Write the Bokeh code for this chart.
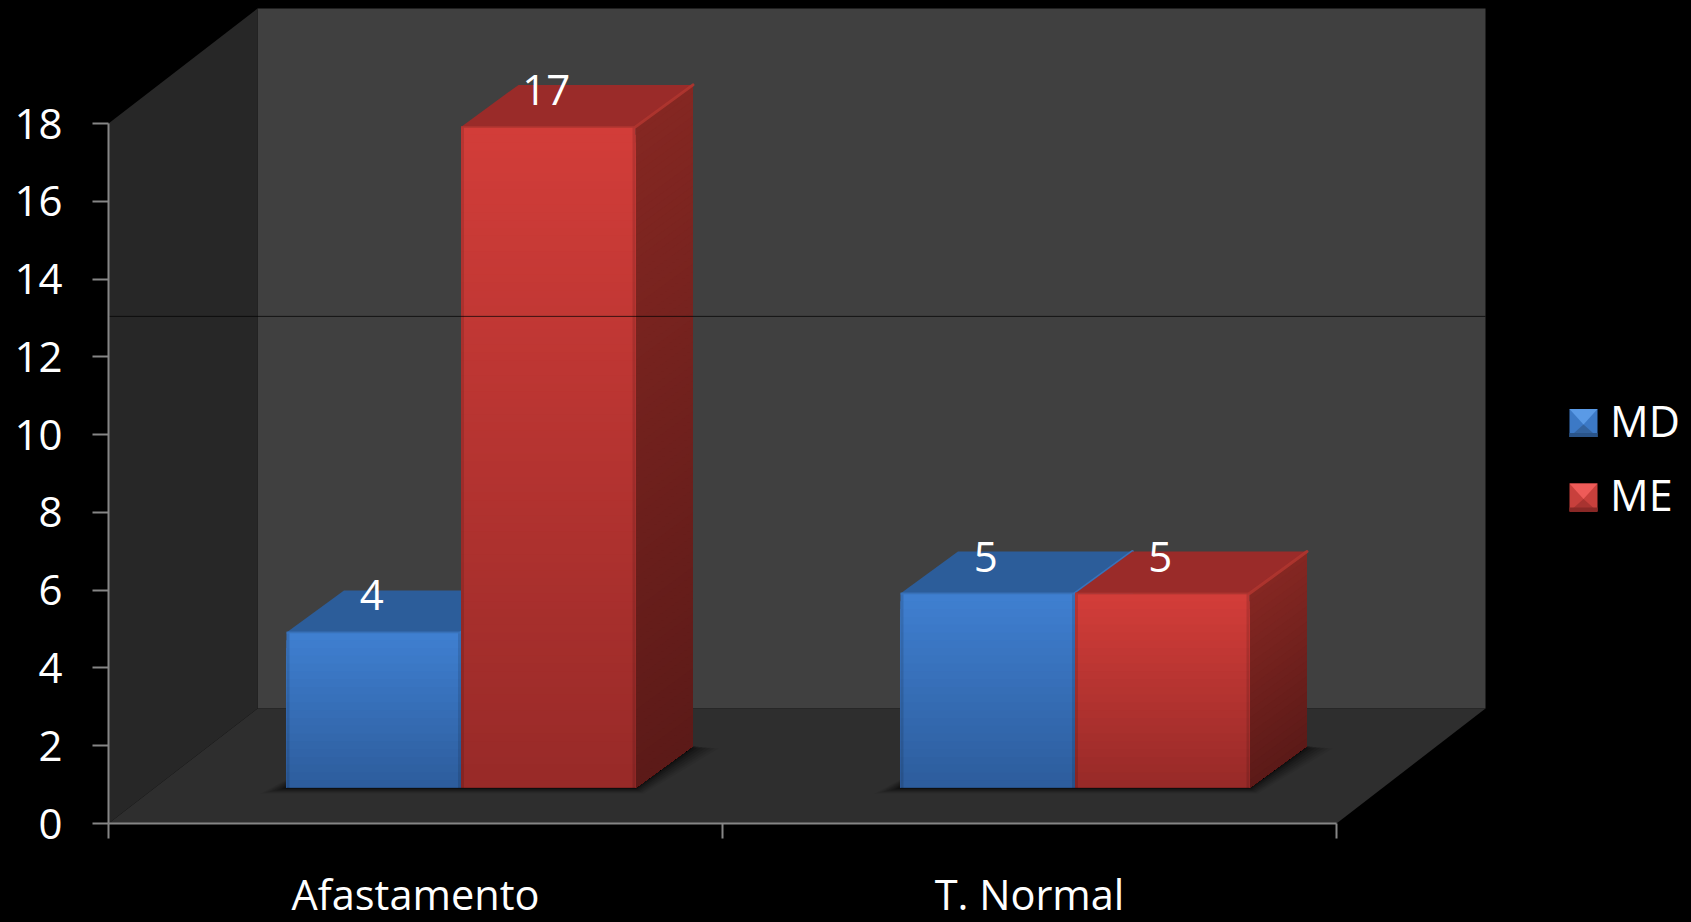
from bokeh.plotting import figure
from bokeh.embed import file_html
from bokeh.resources import INLINE
from bokeh.core.properties import value
from bokeh.models import Range1d, FixedTicker, Legend, LegendItem, LinearAxis, InlineStyleSheet

categories = ["Afastamento", "T. Normal"]
series_names = ["MD", "ME"]
md_values = [4, 5]
me_values = [17, 5]
y_ticks = [0, 2, 4, 6, 8, 10, 12, 14, 16, 18]

FONT = "Open Sans"
FS = "42px"

W, H = 1691, 922
LEFT, BOTTOM_PX = 108, 99           # where the axes cross, px from the left and the bottom
XU, YU = 614.0, 700.0 / 18          # px per axis unit
FH = H - BOTTOM_PX

p = figure(width=W, height=H, output_backend="svg", toolbar_location=None,
           x_range=Range1d(-LEFT / XU, (W - LEFT) / XU),
           y_range=Range1d(-BOTTOM_PX / YU, FH / YU),
           x_axis_location=None, y_axis_location=None,
           min_border_left=0, min_border_right=0, min_border_top=0, min_border_bottom=0,
           background_fill_color="#000000", border_fill_color="#000000",
           outline_line_color=None)
p.grid.visible = False
p.stylesheets = [InlineStyleSheet(css=":host{background:#000;}")]

# projection constants
WALL_DX, WALL_DY = 149 / XU, 115 / YU
FRONT_DX, FRONT_DY = 45.5 / XU, 35.5 / YU
BAR_DX, BAR_DY = 57.5 / XU, 42 / YU
BAR_W = 174.5 / XU
Y_TOP = y_ticks[-1]
X_END = len(categories)


def poly(xs, ys, color, **kw):
    p.patch(xs, ys, fill_color=color, line_color=None, **kw)


# walls and floor
poly([WALL_DX, X_END + WALL_DX, X_END + WALL_DX, WALL_DX],
     [WALL_DY, WALL_DY, Y_TOP + WALL_DY, Y_TOP + WALL_DY], "#404040")
poly([0, WALL_DX, WALL_DX, 0], [0, WALL_DY, Y_TOP + WALL_DY, Y_TOP], "#272727")
poly([0, X_END, X_END + WALL_DX, WALL_DX], [0, 0, WALL_DY, WALL_DY], "#2e2e2e")


def lerp(c0, c1, t):
    a = [int(c0[i:i + 2], 16) for i in (1, 3, 5)]
    b = [int(c1[i:i + 2], 16) for i in (1, 3, 5)]
    return "#%02x%02x%02x" % tuple(round(u + (v - u) * t) for u, v in zip(a, b))


STYLES = {
    "MD": dict(front=("#3f7fd0", "#2d5d9d"), top="#2c5d9a", side=("#2c5d9a", "#234a7c"),
               edge="#3a75bf", sw=("#3c79c6", "#5a9ae6", "#33639f", "#2a5489")),
    "ME": dict(front=("#d23d39", "#982a28"), top="#9a2b29", side=("#842722", "#5c1a18"),
               edge="#b0352f", sw=("#c8403c", "#ee5b58", "#a83330", "#8a2826")),
}


def shadow(x0, x1):
    for grow, alpha in ((26, 0.06), (22, 0.07), (18, 0.09), (14, 0.11), (10, 0.14), (6, 0.18), (3, 0.22)):
        gx, gy = grow / XU, grow * 0.22 / YU
        xs = [x0 - gx, x1 + gx * 0.3, x1 + BAR_DX + gx, x0 + BAR_DX]
        ys = [FRONT_DY - gy, FRONT_DY - gy, FRONT_DY + BAR_DY - gy * 0.4, FRONT_DY + BAR_DY - gy * 0.4]
        poly(xs, ys, "#000000", fill_alpha=alpha)


def bar(x0, val, name):
    st = STYLES[name]
    x1 = x0 + BAR_W
    y0, y1 = FRONT_DY, FRONT_DY + val
    poly([x0, x1, x1 + BAR_DX, x0 + BAR_DX], [y1, y1, y1 + BAR_DY, y1 + BAR_DY], st["top"])
    n = max(16, int(val * 5))
    h = (y1 - y0) / n
    # painter's order: each strip reaches the bar's foot, the next one covers it
    for i in range(n):
        t = i / (n - 1)
        yt = y1 - i * h
        poly([x1, x1 + BAR_DX, x1 + BAR_DX, x1], [y0, y0 + BAR_DY, yt + BAR_DY, yt],
             lerp(st["side"][0], st["side"][1], t))
    # light bevel on the top face's outer diagonal
    p.line([x1, x1 + BAR_DX], [y1, y1 + BAR_DY],
           line_color=st["edge"], line_width=3, line_alpha=0.9, line_cap="round")
    for i in range(n):
        t = i / (n - 1)
        yt = y1 - i * h
        p.quad(left=x0, right=x1, bottom=y0, top=yt,
               fill_color=lerp(st["front"][0], st["front"][1], t), line_color=None)
    # slightly darker vertical edges and a light rim along the top of the front face
    inset = 1.5 / XU
    p.segment([x0 + inset, x1 - inset], [y0, y0], [x0 + inset, x1 - inset], [y1, y1],
              line_color="#000000", line_width=3, line_alpha=0.12)
    p.line([x0, x1], [y1, y1], line_color=st["edge"], line_width=2, line_alpha=0.8)
    p.line([x0, x1], [y0, y0], line_color="#000000", line_width=2, line_alpha=0.15)


for i, (a, b) in enumerate(zip(md_values, me_values)):
    c = i + 0.5 + FRONT_DX
    shadow(c - BAR_W, c + BAR_W)
    for j, (name, val) in enumerate((("MD", a), ("ME", b))):
        x0 = c - BAR_W + j * BAR_W
        bar(x0, val, name)
        p.text([x0 + BAR_W / 2 - 2 / XU], [FRONT_DY + val + 37 / YU], text=[str(val)],
               text_color="#ffffff", text_font=value(FONT), text_font_size=value(FS),
               text_align="center", text_baseline="middle")

# thin dark seam across the plot
p.line([0, X_END + WALL_DX], [13.04, 13.04], line_color="#000000", line_width=1, line_alpha=0.7)

# axes, pinned at the zero of the other scale
xa = LinearAxis(fixed_location=0, bounds=(0, X_END),
                ticker=FixedTicker(ticks=[i + 0.5 for i in range(len(categories))],
                                   minor_ticks=list(range(len(categories) + 1))),
                major_label_overrides={i + 0.5: n for i, n in enumerate(categories)},
                major_tick_in=0, major_tick_out=0, minor_tick_in=0, minor_tick_out=15,
                minor_tick_line_color="#868686", minor_tick_line_width=2,
                axis_line_color="#868686", axis_line_width=2, major_label_standoff=27,
                major_label_text_font=FONT, major_label_text_font_size="41.5px",
                major_label_text_color="#ffffff")
p.add_layout(xa, "below")

ya = LinearAxis(fixed_location=0, bounds=(0, Y_TOP), ticker=FixedTicker(ticks=y_ticks),
                major_tick_in=0, major_tick_out=16, major_tick_line_color="#868686",
                major_tick_line_width=2, minor_tick_line_color=None,
                axis_line_color="#868686", axis_line_width=2, major_label_standoff=30,
                major_label_text_font=FONT, major_label_text_font_size=FS,
                major_label_text_color="#ffffff")
p.add_layout(ya, "left")

# legend: its own glyphs are see-through, the bevelled swatches beneath them show
SW_X0, SW_X1 = 1569, 1597
SW_TOPS = {"MD": 408.5, "ME": 483.0}
SW_SIZE = 28


def dx(sx):
    return (sx - LEFT) / XU


def dy(sy):
    return (FH - sy) / YU


items = []
for name in series_names:
    mid, light, dark, band = STYLES[name]["sw"]
    t0 = SW_TOPS[name]
    b0 = t0 + SW_SIZE
    cx, cy = (SW_X0 + SW_X1) / 2, t0 + SW_SIZE * 0.55
    faces = [
        ([SW_X0, SW_X1, SW_X1, SW_X0], [t0, t0, b0, b0], mid),
        ([SW_X0, SW_X1, cx], [t0, t0, cy], light),
        ([SW_X0, SW_X1, cx], [b0, b0, cy], dark),
        ([SW_X0, SW_X1, SW_X1, SW_X0], [b0 - 4, b0 - 4, b0, b0], band),
    ]
    for xs, ys, col in faces:
        poly([dx(v) for v in xs], [dy(v) for v in ys], col)
    key = p.quad(left=dx(SW_X0), right=dx(SW_X1), bottom=dy(b0), top=dy(t0),
                 fill_alpha=0, line_alpha=0)
    items.append(LegendItem(label=name, renderers=[key]))

legend = Legend(items=items, location=(1567, 398), orientation="vertical",
                background_fill_alpha=0, border_line_color=None, padding=0, margin=0, spacing=15,
                glyph_width=32, glyph_height=32, label_standoff=11, label_text_color="#ffffff",
                label_text_font=FONT, label_text_font_size="43px", label_height=28, label_width=60)
p.add_layout(legend)

open("out.html", "w").write(file_html(p, INLINE))
